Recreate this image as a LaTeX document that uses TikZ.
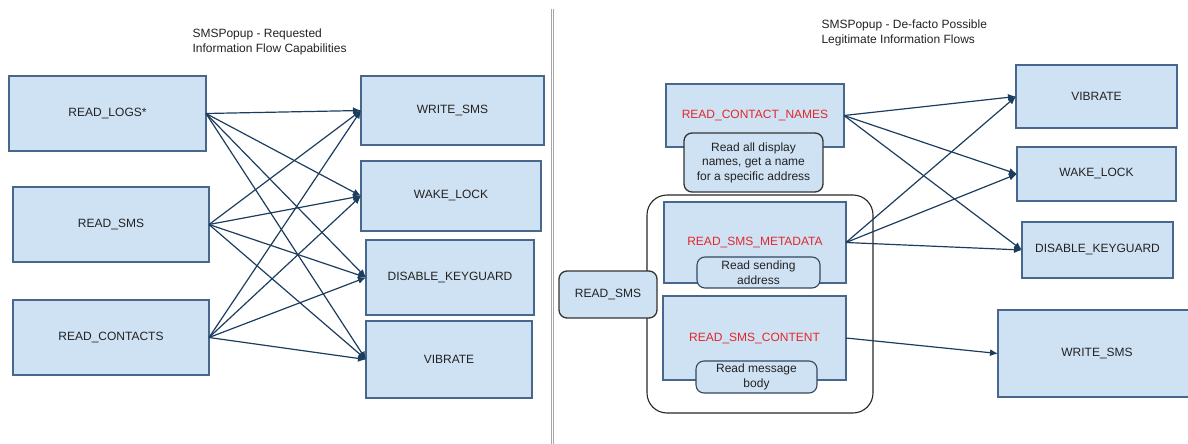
\documentclass[tikz,border=0pt]{standalone}
\usepackage{fontspec}
\setmainfont{Liberation Sans}
\usetikzlibrary{arrows.meta}

\definecolor{boxfill}{HTML}{CFE2F3}
\definecolor{boxline}{HTML}{47678C}
\definecolor{flowline}{HTML}{1C3D5E}
\definecolor{permred}{HTML}{E3262B}
\definecolor{labeltext}{HTML}{222222}

\tikzset{
	box/.style={draw=boxline, fill=boxfill, line width=1.1pt, inner sep=0pt, outer sep=0pt,
		text=labeltext, font=\fontsize{12}{15}\selectfont},
	note/.style={draw=black!80, fill=boxfill, line width=1.3pt, rounded corners=8pt, inner sep=0pt,
		align=center, text=labeltext, font=\fontsize{12}{14.5}\selectfont},
	flow/.style={draw=flowline, line width=1.2pt, -{Latex[length=8pt,width=7pt]}},
}

\begin{document}
\begin{tikzpicture}[x=1pt, y=-1pt]
	\useasboundingbox (0,0) rectangle (1188,444);

	% divider between the two halves
	\draw[gray!70, line width=0.8pt] (551,9) -- (551,444);
	\draw[gray!70, line width=0.8pt] (553.5,9) -- (553.5,444);

	% requested capabilities
	\node[anchor=west, align=left, text=labeltext, font=\fontsize{12}{15}\selectfont] (lefttitle) at (189,41.5)
		{SMSPopup - Requested\\Information Flow Capabilities};

	\node[box, minimum width=197, minimum height=75] (logs) at (107.5,113.5) {READ\_LOGS*};
	\node[box, minimum width=196, minimum height=75] (sms) at (111,224.5) {READ\_SMS};
	\node[box, minimum width=196, minimum height=75] (contacts) at (111,337.5) {READ\_CONTACTS};

	\node[box, minimum width=183, minimum height=69] (wsms) at (452.5,110.5) {WRITE\_SMS};
	\node[box, minimum width=180, minimum height=70] (wake) at (451,196) {WAKE\_LOCK};
	\node[box, minimum width=168, minimum height=75] (keyg) at (450,277.5) {DISABLE\_KEYGUARD};
	\node[box, minimum width=166, minimum height=77] (vib) at (449,359.5) {VIBRATE};

	\foreach \s in {logs,sms,contacts}
	{
		\foreach \t in {wsms,wake,keyg,vib}
		{
			\draw[flow] (\s.east) -- (\t.west);
		}
	}

	% de-facto flows
	\node[anchor=west, align=left, text=labeltext, font=\fontsize{12}{15}\selectfont] (righttitle) at (818,32.5)
		{SMSPopup - De-facto Possible\\Legitimate Information Flows};

	\node[box, minimum width=178, minimum height=63, text=permred] (names) at (755,115.5) {READ\_CONTACT\_NAMES};
	\node[note, minimum width=139, minimum height=59] (namesnote) at (753.5,162.5)
		{Read all display\\names, get a name\\for a specific address};

	\node[draw=black!85, line width=1.1pt, rounded corners=20pt, inner sep=0pt,
		minimum width=226, minimum height=218] (smsgroup) at (760,304) {};

	\node[box, minimum width=182, minimum height=81, text=permred] (meta) at (755,242.5) {READ\_SMS\_METADATA};
	\node[note, minimum width=123, minimum height=31, line width=1.1pt, draw=boxline!70!black] (metanote) at (758.5,272.5)
		{Read sending\\address};
	\node[box, minimum width=183, minimum height=84, text=permred] (content) at (754.5,338) {READ\_SMS\_CONTENT};
	\node[note, minimum width=121, minimum height=32, line width=1.1pt, draw=boxline!70!black] (contentnote) at (756.5,377)
		{Read message\\body};

	\node[note, minimum width=98, minimum height=47] (rsms) at (608,294.5) {READ\_SMS};

	\node[box, minimum width=161, minimum height=63] (vibr) at (1096.5,96.5) {VIBRATE};
	\node[box, minimum width=159, minimum height=54] (wakr) at (1096.5,174) {WAKE\_LOCK};
	\node[box, minimum width=151, minimum height=56] (keyr) at (1097.5,250) {DISABLE\_KEYGUARD};
	\node[box, minimum width=198, minimum height=87] (wsmr) at (1097,353.5) {WRITE\_SMS};

	\foreach \t in {vibr,wakr,keyr}
	{
		\draw[flow] (names.east) -- (\t.west);
		\draw[flow] (meta.east) -- (\t.west);
	}
	\draw[flow] (content.east) -- (wsmr.west);
\end{tikzpicture}
\end{document}
